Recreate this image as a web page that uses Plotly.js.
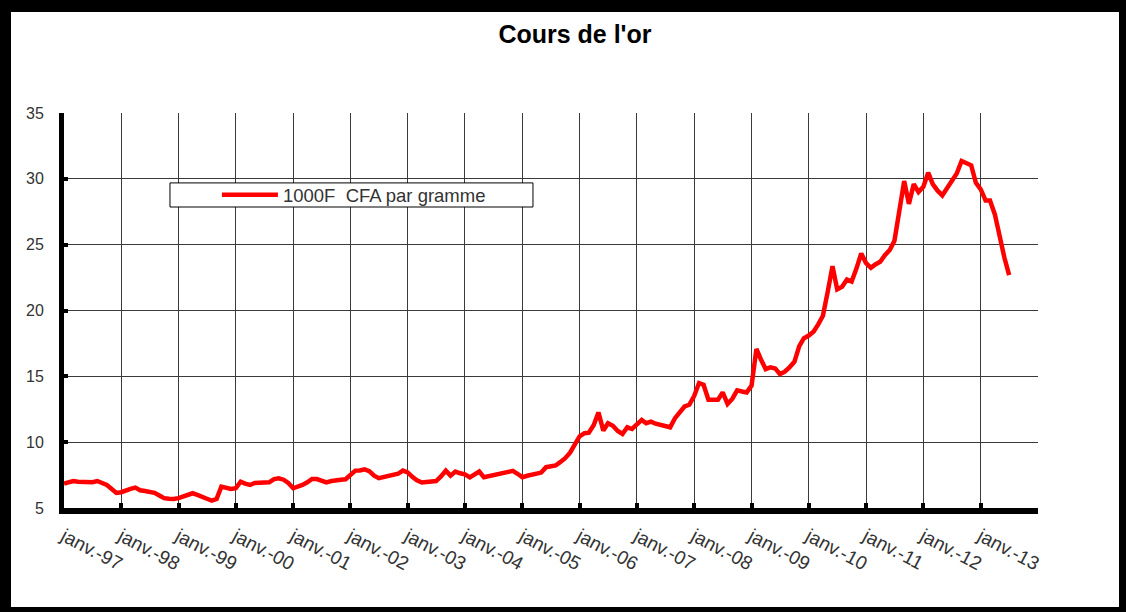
<!DOCTYPE html>
<html>
<head>
<meta charset="utf-8">
<script src="https://cdn.plot.ly/plotly-3.0.1.min.js"></script>
<style>
  html, body { margin: 0; padding: 0; background: #fff; }
  #plot { width: 1108px; height: 595px; border-style: solid; border-color: #000;
    border-width: 12px 7px 5px 11px; }
</style>
</head>
<body>
<div id="plot"></div>
<script>
// cours mensuel de l'or, en milliers de F CFA par gramme
var or1997 = [6.85, 6.95, 7.05, 7.0, 7.0, 6.98, 6.96, 7.05, 6.9, 6.75, 6.45, 6.15];
var or1998 = [6.2, 6.37, 6.45, 6.55, 6.35, 6.29, 6.2, 6.15, 5.95, 5.75, 5.7, 5.68];
var or1999 = [5.75, 5.9, 6.05, 6.12, 6.0, 5.81, 5.7, 5.56, 5.69, 6.62, 6.55, 6.45];
var or2000 = [6.5, 7.0, 6.85, 6.75, 6.9, 6.92, 6.88, 6.95, 7.2, 7.26, 7.15, 6.9];
var or2001 = [6.5, 6.6, 6.75, 6.95, 7.2, 7.2, 7.05, 6.95, 7.05, 7.13, 7.15, 7.18];
var or2002 = [7.5, 7.84, 7.85, 7.94, 7.8, 7.45, 7.26, 7.35, 7.45, 7.51, 7.6, 7.84];
var or2003 = [7.7, 7.35, 7.1, 6.94, 7.0, 7.02, 7.05, 7.4, 7.84, 7.46, 7.77, 7.64];
var or2004 = [7.55, 7.33, 7.55, 7.77, 7.33, 7.4, 7.5, 7.59, 7.65, 7.75, 7.82, 7.6];
var or2005 = [7.34, 7.45, 7.51, 7.6, 7.69, 8.1, 8.15, 8.23, 8.5, 8.78, 9.2, 9.9];
var or2006 = [10.45, 10.68, 10.72, 11.3, 12.26, 10.88, 11.44, 11.25, 10.85, 10.62, 11.13, 11.0];
var or2007 = [11.3, 11.69, 11.44, 11.56, 11.4, 11.3, 11.2, 11.13, 11.82, 12.2, 12.71, 12.84];
var or2008 = [13.5, 14.49, 14.36, 13.22, 13.2, 13.22, 13.78, 12.91, 13.3, 13.94, 13.85, 13.78];
var or2009 = [14.3, 17.08, 16.3, 15.55, 15.68, 15.6, 15.17, 15.35, 15.7, 16.1, 17.3, 17.9];
var or2010 = [18.1, 18.4, 18.93, 19.6, 21.4, 23.36, 21.6, 21.8, 22.35, 22.2, 23.2, 24.33];
var or2011 = [23.6, 23.24, 23.5, 23.7, 24.2, 24.6, 25.3, 27.8, 29.83, 28.1, 29.6, 29.0];
var or2012 = [29.4, 30.47, 29.6, 29.1, 28.74, 29.3, 29.8, 30.4, 31.35, 31.2, 31.03, 29.7];
var or2013 = [29.2, 28.35, 28.35, 27.3, 25.6, 24.0, 22.68];

var annees = [1997, 1998, 1999, 2000, 2001, 2002, 2003, 2004, 2005, 2006, 2007, 2008, 2009, 2010, 2011, 2012, 2013];
var parAnnee = [or1997, or1998, or1999, or2000, or2001, or2002, or2003, or2004, or2005,
  or2006, or2007, or2008, or2009, or2010, or2011, or2012, or2013];
var etiquettes = ['janv.-97', 'janv.-98', 'janv.-99', 'janv.-00', 'janv.-01', 'janv.-02', 'janv.-03',
  'janv.-04', 'janv.-05', 'janv.-06', 'janv.-07', 'janv.-08', 'janv.-09', 'janv.-10', 'janv.-11',
  'janv.-12', 'janv.-13'];

var dates = [], cours = [];
annees.forEach(function (a, i) {
  parAnnee[i].forEach(function (v, m) {
    dates.push(a + '-' + (m < 9 ? '0' : '') + (m + 1) + '-01');
    cours.push(v);
  });
});

var tickDates = annees.map(function (a) { return a + '-01-01'; }).concat(['2014-01-01']);
var tickTexte = etiquettes.concat(['']);

var police = 'Liberation Sans, Arial, sans-serif';

var trace1 = {
  x: dates,
  y: cours,
  name: '1000F\u00a0 CFA par gramme',
  type: 'scatter',
  mode: 'lines',
  line: {color: '#ff0000', width: 4.5}
};

var layout = {
  width: 1108,
  height: 595,
  margin: {l: 53, r: 81, t: 101, b: 99},
  paper_bgcolor: '#fff',
  plot_bgcolor: '#fff',
  title: {text: "Cours de l'or", font: {family: police, size: 25, color: '#000', weight: 'bold'},
    x: 0.509, xanchor: 'center', y: 0.962, yanchor: 'middle'},
  showlegend: true,
  legend: {x: 0.157, xanchor: 'left', y: 0.792, yanchor: 'middle',
    bgcolor: 'rgba(0,0,0,0)', borderwidth: 0, itemwidth: 56,
    font: {family: police, size: 18.5, color: '#333'}},
  shapes: [{type: 'rect', xref: 'paper', yref: 'paper', x0: 0.1088, x1: 0.4815, y0: 0.762, y1: 0.823,
    fillcolor: '#fff', line: {color: '#000', width: 1}, layer: 'above'}],
  xaxis: {
    type: 'date',
    range: ['1997-01-01', '2014-01-01'],
    tickmode: 'array',
    tickvals: tickDates,
    ticktext: tickTexte,
    tickangle: 28,
    ticklabelstandoff: 4,
    showgrid: true, gridcolor: '#3a3a3a', gridwidth: 1,
    showline: true, linecolor: '#000', linewidth: 6,
    ticks: 'inside', ticklen: 5, tickwidth: 4, tickcolor: '#000',
    tickfont: {family: police, size: 19, color: '#333'},
    zeroline: false
  },
  yaxis: {
    range: [5, 35],
    tick0: 5, dtick: 5,
    showgrid: true, gridcolor: '#3a3a3a', gridwidth: 1,
    showline: true, linecolor: '#000', linewidth: 5,
    ticks: 'inside', ticklen: 4, tickwidth: 4, tickcolor: '#000',
    ticklabelstandoff: 12,
    tickfont: {family: police, size: 16, color: '#333'},
    zeroline: false
  }
};

Plotly.newPlot('plot', [trace1], layout, {displayModeBar: false, staticPlot: true});
</script>
</body>
</html>
